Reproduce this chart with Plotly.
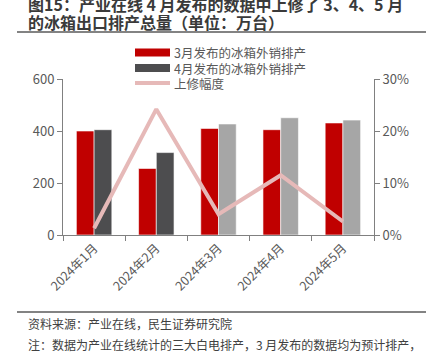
import plotly.graph_objects as go

# ---- data ----
categories = ["2024年1月", "2024年2月", "2024年3月", "2024年4月", "2024年5月"]
series_names = ["3月发布的冰箱外销排产", "4月发布的冰箱外销排产", "上修幅度"]
march_release = [400, 256, 410, 405, 431]
april_release = [405, 317, 427, 451, 442]
revision_pct = [1.3, 24.2, 4.0, 11.5, 2.6]
left_ticks = [0, 200, 400, 600]
right_ticks = [0, 10, 20, 30]
right_tick_labels = ["0%", "10%", "20%", "30%"]

title_lines = ["图15：产业在线 4 月发布的数据中上修了 3、4、5 月",
               "的冰箱出口排产总量（单位：万台）"]
source_text = "资料来源：产业在线，民生证券研究院"
note_text = "注：数据为产业在线统计的三大白电排产，3 月发布的数据均为预计排产，"

# ---- style ----
W, H = 426, 352
L, R, T, B = 63, 52, 79, 117
PW, PH = W - L - R, H - T - B
RED = "#c00000"
DARK = "#4d4d4f"
LIGHT = "#a6a6a6"
PINK = "#e6b9b8"
april_colors = [DARK, DARK, LIGHT, LIGHT, LIGHT]
FONT = "Noto Sans CJK SC"
TXT = "#595959"
AX = "#808080"


def px(x):
    return (x - L) / PW


def py(y):
    return (H - B - y) / PH


fig = go.Figure()
fig.add_trace(go.Bar(x=categories, y=march_release, name=series_names[0],
                     marker=dict(color=RED, line=dict(color="white", width=0.6)),
                     showlegend=False))
fig.add_trace(go.Bar(x=categories, y=april_release, name=series_names[1],
                     marker=dict(color=april_colors, line=dict(color="white", width=0.6)),
                     showlegend=False))
fig.add_trace(go.Scatter(x=categories, y=revision_pct, name=series_names[2], yaxis="y2",
                         mode="lines", line=dict(color=PINK, width=4), showlegend=False))

shapes = []
annotations = []

# custom legend
leg_colors = [RED, DARK, PINK]
leg_rows = [52.5, 68, 83]
for name, col, yy in zip(series_names, leg_colors, leg_rows):
    if col == PINK:
        shapes.append(dict(type="line", xref="paper", yref="paper",
                           x0=px(135), x1=px(170), y0=py(yy), y1=py(yy),
                           line=dict(color=col, width=4)))
    else:
        shapes.append(dict(type="rect", xref="paper", yref="paper",
                           x0=px(135), x1=px(170), y0=py(yy - 4), y1=py(yy + 4),
                           fillcolor=col, line=dict(width=0)))
    annotations.append(dict(text=name, xref="paper", yref="paper", x=px(172), y=py(yy),
                            xanchor="left", yanchor="middle", showarrow=False,
                            font=dict(family=FONT, size=12.5, color=TXT)))

# title
for txt, yy in zip(title_lines, [4.5, 21.5]):
    annotations.append(dict(text="<b>" + txt + "</b>", xref="paper", yref="paper",
                            x=px(26), y=py(yy), xanchor="left", yanchor="middle",
                            showarrow=False, font=dict(family=FONT, size=16, color="#3a3a3a")))
# separators
for yy in [32, 312]:
    shapes.append(dict(type="line", xref="paper", yref="paper", x0=px(17), x1=px(426),
                       y0=py(yy), y1=py(yy), line=dict(color="#5a5a5a", width=1.5)))
# footer
for txt, yy in zip([source_text, note_text], [323, 344]):
    annotations.append(dict(text=txt, xref="paper", yref="paper", x=px(26), y=py(yy),
                            xanchor="left", yanchor="middle", showarrow=False,
                            font=dict(family=FONT, size=12, color="#404040")))

fig.update_layout(
    width=W, height=H,
    margin=dict(l=L, r=R, t=T, b=B, pad=0),
    paper_bgcolor="white", plot_bgcolor="white",
    barmode="group", bargap=0.43, bargroupgap=0,
    font=dict(family=FONT, size=12, color=TXT),
    xaxis=dict(type="category", tickson="boundaries", tickangle=-45,
               showline=True, linecolor=AX, linewidth=1,
               ticks="outside", ticklen=5, tickcolor=AX,
               tickfont=dict(family=FONT, size=12.5, color=TXT), showgrid=False),
    yaxis=dict(range=[0, 600], tickvals=left_ticks, showline=True, linecolor=AX, linewidth=1,
               ticks="outside", ticklen=5, tickcolor=AX, showgrid=False, zeroline=False,
               tickfont=dict(family=FONT, size=13, color=TXT)),
    yaxis2=dict(range=[0, 30], tickmode="array", tickvals=right_ticks,
                ticktext=right_tick_labels, overlaying="y", side="right",
                showline=True, linecolor=AX, linewidth=1, ticks="outside", ticklen=5,
                tickcolor=AX, showgrid=False, zeroline=False,
                tickfont=dict(family=FONT, size=13, color=TXT)),
    shapes=shapes, annotations=annotations,
)

fig.write_html("out.html")
